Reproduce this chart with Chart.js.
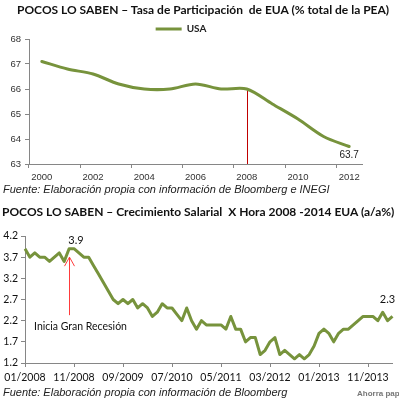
<!DOCTYPE html>
<html>
<head>
<meta charset="utf-8">
<script src="https://cdn.jsdelivr.net/npm/chart.js@4.4.1/dist/chart.umd.min.js"></script>
<style>
  html, body { margin: 0; padding: 0; background: #fff; }
  #page { position: relative; width: 399px; height: 401px; overflow: hidden; background: #fff; }
  canvas { position: absolute; left: 0; z-index: 1; }
  #c1 { top: 14px; }
  #c2 { top: 226px; }
  .titulo { position: absolute; white-space: nowrap; font-family: Lato, sans-serif; font-weight: bold; font-size: 12px; color: #111; z-index: 2; }
  .fuente { position: absolute; left: 3px; white-space: nowrap; font-family: "Liberation Sans", Arial, sans-serif; font-style: italic; font-size: 11px; color: #222; z-index: 2; }
  #t1 { top: 2px; left: 17px; }
  #t2 { top: 204px; left: 2px; }
  #s1 { top: 183px; }
  #s2 { top: 386px; }
  #wm { position: absolute; left: 357px; top: 389px; white-space: nowrap; font: bold 8px "Liberation Sans", sans-serif; color: #777; z-index: 2; }
</style>
</head>
<body>
<div id="page">
  <div class="titulo" id="t1">POCOS LO SABEN – Tasa de Participación &nbsp;de EUA (% total de la PEA)</div>
  <canvas id="c1" width="399" height="172"></canvas>
  <div class="fuente" id="s1">Fuente: Elaboración propia con información de Bloomberg e INEGI</div>
  <div class="titulo" id="t2">POCOS LO SABEN – Crecimiento Salarial &nbsp;X Hora 2008 -2014 EUA (a/a%)</div>
  <canvas id="c2" width="399" height="162"></canvas>
  <div class="fuente" id="s2">Fuente: Elaboración propia con información de Bloomberg</div>
  <div id="wm">Ahorra papel</div>
</div>
<script>
// --- Datos: tasa de participación (anual) ---
const anios = ['2000', '2001', '2002', '2003', '2004', '2005', '2006', '2007', '2008', '2009', '2010', '2011', '2012'];
const participacion = [67.1, 66.8, 66.6, 66.2, 66.0, 66.0, 66.2, 66.0, 66.0, 65.4, 64.8, 64.1, 63.7];
const etiquetasAnio = ['2000', '2002', '2004', '2006', '2008', '2010', '2012'];
const anioCrisis = '2008';

// --- Datos: crecimiento salarial por hora (mensual, 01/2008 - 04/2014) ---
const salario = [
  3.9, 3.7, 3.8, 3.7, 3.7, 3.6, 3.7, 3.8, 3.6, 3.9, 3.9, 3.8,
  3.7, 3.7, 3.5, 3.3, 3.1, 2.9, 2.7, 2.6, 2.7, 2.6, 2.7, 2.5,
  2.6, 2.5, 2.3, 2.4, 2.6, 2.5, 2.5, 2.35, 2.2, 2.5, 2.2, 2.0,
  2.2, 2.1, 2.1, 2.1, 2.1, 2.0, 2.3, 2.0, 2.0, 1.7, 1.8, 1.8,
  1.4, 1.5, 1.7, 1.8, 1.4, 1.5, 1.4, 1.3, 1.4, 1.3, 1.4, 1.6,
  1.9, 2.0, 1.9, 1.7, 1.9, 2.0, 2.0, 2.1, 2.2, 2.3, 2.3, 2.3,
  2.2, 2.4, 2.2, 2.3
];
const etiquetasMes = ['01/2008', '11/2008', '09/2009', '07/2010', '05/2011', '03/2012', '01/2013', '11/2013'];

// meses como categorias
const meses = [];
for (let i = 0; i < salario.length; i++) {
  const m = i % 12 + 1;
  const a = 2008 + Math.floor(i / 12);
  meses.push(String(m).padStart(2, '0') + '/' + a);
}

const VERDE = '#77933C';
const GRIS_EJE = '#868686';
const idxPico = 10;        // punto rotulado "3.9"
const flechaIdx = 9;       // flecha "Inicia Gran Recesión"
const flechaDesde = 2.33;
const flechaHasta = 3.70;

// legend con menos espacio abajo
const legendCompacta = {
  id: 'legendCompacta',
  beforeInit(chart) {
    const fitOriginal = chart.legend.fit;
    chart.legend.fit = function () {
      fitOriginal.bind(chart.legend)();
      this.height -= 5;
    };
  }
};

const marcasParticipacion = {
  id: 'marcasParticipacion',
  beforeDatasetsDraw(chart) {
    const { ctx, scales: { x, y }, chartArea } = chart;
    const i = anios.indexOf(anioCrisis);
    const px = Math.round(x.getPixelForValue(i)) + 0.5;
    ctx.save();
    ctx.strokeStyle = '#C00000';
    ctx.lineWidth = 1;
    ctx.beginPath();
    ctx.moveTo(px, y.getPixelForValue(participacion[i]));
    ctx.lineTo(px, chartArea.bottom);
    ctx.stroke();
    ctx.restore();
  },
  afterDatasetsDraw(chart) {
    const { ctx } = chart;
    const puntos = chart.getDatasetMeta(0).data;
    const ult = puntos[puntos.length - 1];
    ctx.save();
    ctx.fillStyle = '#222';
    ctx.font = '10px "Liberation Sans", Arial, sans-serif';
    ctx.textAlign = 'center';
    ctx.textBaseline = 'middle';
    ctx.fillText(participacion[participacion.length - 1].toFixed(1), ult.x, ult.y + 9);
    ctx.restore();
  }
};

const marcasSalario = {
  id: 'marcasSalario',
  afterDatasetsDraw(chart) {
    const { ctx, scales: { x, y } } = chart;
    const puntos = chart.getDatasetMeta(0).data;
    const pico = puntos[idxPico];
    const ult = puntos[puntos.length - 1];
    ctx.save();
    ctx.fillStyle = '#111';
    ctx.font = '11px Lato, sans-serif';
    ctx.textAlign = 'center';
    ctx.textBaseline = 'middle';
    ctx.fillText(salario[idxPico].toFixed(1), pico.x + 2, pico.y - 8);
    ctx.fillText(salario[salario.length - 1].toFixed(1), ult.x - 5, ult.y - 17);

    // flecha
    const fx = Math.round(x.getPixelForValue(flechaIdx)) + 0.5;
    const y0 = y.getPixelForValue(flechaDesde);
    const y1 = y.getPixelForValue(flechaHasta);
    ctx.strokeStyle = '#FF3B3B';
    ctx.lineWidth = 1;
    ctx.beginPath();
    ctx.moveTo(fx, y0);
    ctx.lineTo(fx, y1);
    ctx.moveTo(fx - 5, y1 + 9);
    ctx.lineTo(fx, y1);
    ctx.lineTo(fx + 5, y1 + 9);
    ctx.stroke();

    ctx.fillStyle = '#111';
    ctx.font = '10.5px Lato, sans-serif';
    ctx.fillText('Inicia Gran Recesión', fx + 11, y0 + 11);
    ctx.restore();
  }
};

new Chart(document.getElementById('c1'), {
  type: 'line',
  data: {
    labels: anios,
    datasets: [{
      label: 'USA',
      data: participacion,
      borderColor: VERDE,
      backgroundColor: VERDE,
      borderWidth: 3,
      borderCapStyle: 'round',
      tension: 0.3,
      pointRadius: 0,
      pointStyle: 'line',
      pointBorderWidth: 3
    }]
  },
  options: {
    responsive: false,
    animation: false,
    layout: { padding: { top: 6, right: 37, left: 0, bottom: 0 } },
    plugins: {
      legend: {
        display: true,
        labels: {
          usePointStyle: true,
          pointStyleWidth: 26,
          padding: 4,
          color: '#222',
          font: { family: 'Lato', size: 10, weight: 'bold' }
        }
      },
      tooltip: { enabled: false }
    },
    scales: {
      x: {
        offset: true,
        afterFit: s => { s.height = 22; },
        grid: {
          offset: true,
          drawOnChartArea: false,
          tickLength: 4,
          color: GRIS_EJE,
          tickColor: c => (c.index % 2 === 0 ? GRIS_EJE : 'rgba(0,0,0,0)')
        },
        border: { color: GRIS_EJE },
        ticks: {
          autoSkip: false,
          maxRotation: 0,
          padding: 4,
          color: '#333',
          font: { family: 'Liberation Sans', size: 9.5 },
          callback: (v, i) => (etiquetasAnio.includes(anios[i]) ? anios[i] : '')
        }
      },
      y: {
        min: 63,
        max: 68,
        afterFit: s => { s.width = 29; },
        grid: { drawOnChartArea: false, tickLength: 4, color: GRIS_EJE },
        border: { color: GRIS_EJE },
        ticks: {
          stepSize: 1,
          padding: 4,
          color: '#333',
          font: { family: 'Liberation Sans', size: 9.5 }
        }
      }
    }
  },
  plugins: [legendCompacta, marcasParticipacion]
});

new Chart(document.getElementById('c2'), {
  type: 'line',
  data: {
    labels: meses,
    datasets: [{
      label: 'Salario',
      data: salario,
      borderColor: VERDE,
      borderWidth: 3,
      borderJoinStyle: 'round',
      tension: 0,
      pointRadius: 0
    }]
  },
  options: {
    responsive: false,
    animation: false,
    layout: { padding: { top: 10, right: 6.5, left: 0, bottom: 0 } },
    plugins: {
      legend: { display: false },
      tooltip: { enabled: false }
    },
    scales: {
      x: {
        afterFit: s => { s.height = 25; },
        grid: {
          drawOnChartArea: false,
          tickLength: 4,
          color: GRIS_EJE,
          tickColor: c => (etiquetasMes.includes(meses[c.index]) ? GRIS_EJE : 'rgba(0,0,0,0)')
        },
        border: { color: GRIS_EJE },
        ticks: {
          autoSkip: false,
          maxRotation: 0,
          padding: 4,
          color: '#111',
          font: { family: 'Lato', size: 10.5 },
          callback: (v, i) => (etiquetasMes.includes(meses[i]) ? meses[i] : '')
        }
      },
      y: {
        min: 1.2,
        max: 4.2,
        afterFit: s => { s.width = 25; },
        grid: { drawOnChartArea: false, tickLength: 4, color: GRIS_EJE },
        border: { color: GRIS_EJE },
        ticks: {
          stepSize: 0.5,
          padding: 3,
          color: '#111',
          font: { family: 'Lato', size: 10.5 },
          callback: v => v.toFixed(1)
        }
      }
    }
  },
  plugins: [marcasSalario]
});
</script>
</body>
</html>
